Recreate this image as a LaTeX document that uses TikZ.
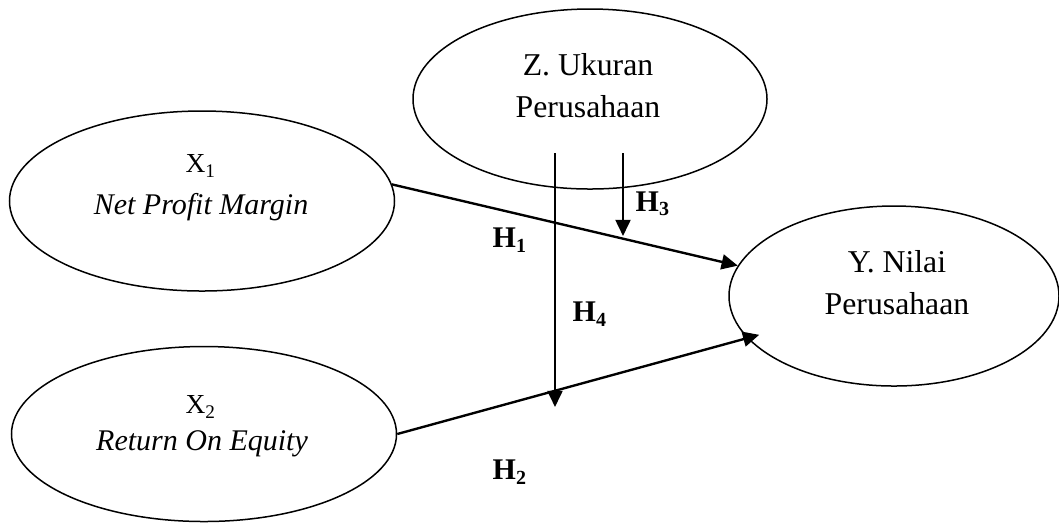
\documentclass[tikz,border=0pt]{standalone}
\usepackage{fontspec}
\setmainfont{Liberation Serif}
\usetikzlibrary{shapes.geometric,arrows.meta}
\begin{document}
\begin{tikzpicture}[x=0.4pt,y=-0.4pt]
\tikzset{ovale/.style={draw, ellipse, line width=0.6pt, inner sep=0pt},
  texte/.style={align=center, font=\fontsize{12.7}{16.8}\selectfont},
  texteit/.style={align=center, font=\fontsize{12}{16.8}\selectfont\itshape},
  indice/.style={font=\fontsize{11}{13}\selectfont},
  fleche/.style={line width=0.95pt, -{Triangle[length=6.5pt,width=6pt]}},
  hypo/.style={font=\fontsize{12}{14}\selectfont\bfseries}}
\useasboundingbox (0,0) rectangle (1059,523);
\node[ovale, minimum width=154pt, minimum height=72pt] (X1) at (202,201) {};
\node[ovale, minimum width=154pt, minimum height=70pt] (X2) at (204,434) {};
\node[ovale, minimum width=141.6pt, minimum height=72pt] (Z) at (590,99) {};
\node[ovale, minimum width=132pt, minimum height=72pt] (Y) at (894,296) {};
\node[indice] (X1s) at (201,166) {X\textsubscript{1}};
\node[texteit] (X1n) at (201,207) {Net Profit Margin};
\node[indice] (X2s) at (201,407) {X\textsubscript{2}};
\node[texteit] (X2n) at (202,444) {Return On Equity};
\node[texte] (Zt) at (588,86) {Z. Ukuran\\Perusahaan};
\node[texte] (Yt) at (897,283) {Y. Nilai\\Perusahaan};
\coordinate (h4a) at (555,153);
\coordinate (h4b) at (555,407);
\coordinate (h3a) at (623,153);
\coordinate (h3b) at (623,236);
\draw[fleche] (X1.5) -- (Y.169);
\draw[fleche, shorten >=-5pt] (X2.east) -- (Y.196);
\draw[fleche] (h4a) -- (h4b);
\draw[fleche] (h3a) -- (h3b);
\node[hypo] (H1) at (510,240) {H\textsubscript{1}};
\node[hypo] (H2) at (510,472) {H\textsubscript{2}};
\node[hypo] (H3) at (653,204) {H\textsubscript{3}};
\node[hypo] (H4) at (590,314) {H\textsubscript{4}};
\end{tikzpicture}
\end{document}
